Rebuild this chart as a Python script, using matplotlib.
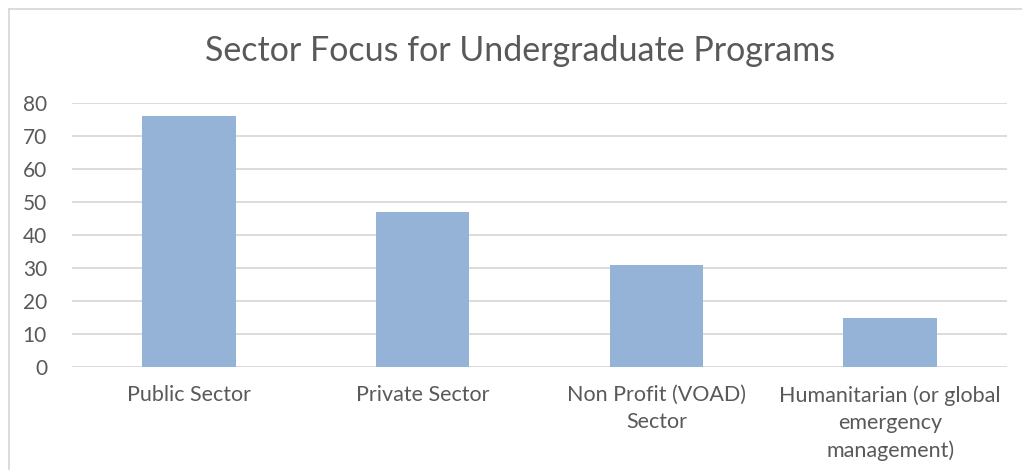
import matplotlib
matplotlib.use("Agg")
import matplotlib.pyplot as plt
from matplotlib.lines import Line2D

categories = ["Public Sector", "Private Sector", "Non Profit (VOAD)\nSector",
              "Humanitarian (or global\nemergency\nmanagement)"]
values = [76, 47, 31, 15]
yticks = [0, 10, 20, 30, 40, 50, 60, 70, 80]
title = "Sector Focus for Undergraduate Programs"

W, H = 1022, 470
txt = "#595959"
plt.rcParams['font.family'] = ['Lato', 'DejaVu Sans']

fig = plt.figure(figsize=(W / 100, H / 100), dpi=100)
ax = fig.add_axes([72 / W, 1 - 367 / H, (1007 - 72) / W, (367 - 103) / H])

x = list(range(len(categories)))
ax.bar(x, values, width=0.40, color="#95B3D7", zorder=3)
ax.set_xlim(-0.5, len(categories) - 0.5)
ax.set_ylim(0, 80)
ax.set_yticks(yticks)
ax.set_yticklabels([str(v) for v in yticks], fontsize=15, color=txt)
ax.set_xticks(x)
ax.set_xticklabels(categories, fontsize=15.5, color=txt, linespacing=1.45)
ax.tick_params(axis="both", length=0)
ax.tick_params(axis="y", pad=18)
ax.tick_params(axis="x", pad=13)
for v in yticks:
    ax.axhline(v, color="#D9D9D9", lw=1.3, zorder=1)
for s in ax.spines.values():
    s.set_visible(False)

fig.text(520 / W, 1 - 51 / H, title, ha="center", va="center", fontsize=24.5, color=txt)

# chart frame (left and top edges visible)
fig.add_artist(Line2D([8.5 / W, 8.5 / W], [0, 1 - 9 / H], transform=fig.transFigure, color="#D9D9D9", lw=1.3))
fig.add_artist(Line2D([8.5 / W, 1], [1 - 9 / H, 1 - 9 / H], transform=fig.transFigure, color="#D9D9D9", lw=1.3))

fig.savefig("out.png", dpi=100, facecolor="white")
